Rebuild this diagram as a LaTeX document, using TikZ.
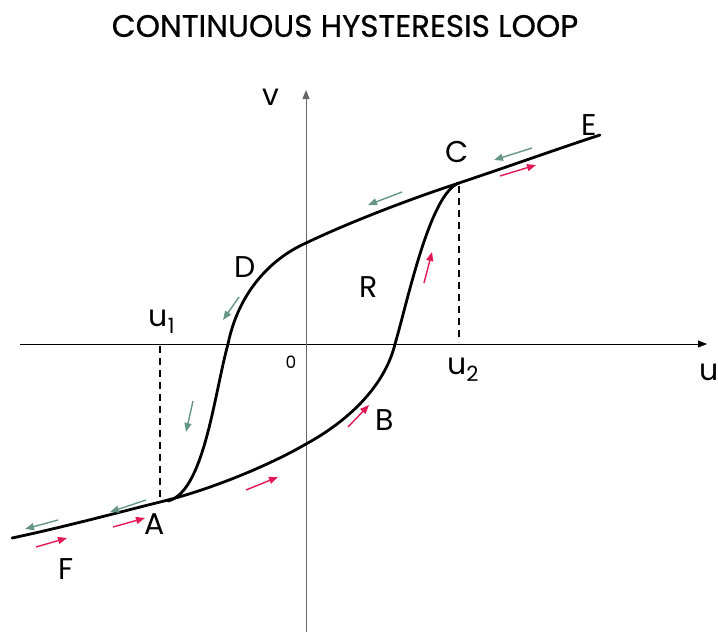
\documentclass[tikz,border=0pt]{standalone}
\usepackage{fontspec}
\setmainfont{Poppins}
\newfontfamily\titlefont[FakeBold=0.6]{Poppins}
\usetikzlibrary{arrows.meta}
\definecolor{teal1}{RGB}{100,150,130}
\definecolor{pink1}{RGB}{225,25,85}
\begin{document}
\begin{tikzpicture}[x=1pt,y=-1pt,
  lbl/.style={font=\fontsize{30}{32}\selectfont, inner sep=0pt},
  curve/.style={line width=2.8pt, line cap=round},
  tarr/.style={teal1, line width=1.4pt, -{Triangle[length=9pt,width=7pt]}},
  parr/.style={pink1, line width=1.4pt, -{Triangle[length=9pt,width=7pt]}},
  dsh/.style={line width=1.5pt, dash pattern=on 7pt off 5pt}]
\useasboundingbox (0,0) rectangle (718,633);
% title
\node[font=\titlefont\fontsize{31}{34}\selectfont, inner sep=0pt] (title) at (345,26) {CONTINUOUS HYSTERESIS LOOP};
% axes
\coordinate (xl) at (20,344);
\coordinate (xr) at (707,344);
\coordinate (yb) at (306,632);
\coordinate (yt) at (306,90);
\draw[line width=0.8pt, -{Triangle[length=9pt,width=7pt]}] (xl) -- (xr);
\draw[gray!80!black, line width=1pt, -{Triangle[length=9pt,width=7pt]}] (yb) -- (yt);
% dashed
\coordinate (u1a) at (160,346);
\coordinate (u1b) at (160,500);
\coordinate (u2a) at (459,186);
\coordinate (u2b) at (459,342);
\draw[dsh] (u1a) -- (u1b);
\draw[dsh] (u2a) -- (u2b);
% curve points
\coordinate (Fp) at (12,538);
\coordinate (Ap) at (160,502);
\coordinate (Y1) at (306,444);
\coordinate (X1) at (395,344);
\coordinate (Cp) at (459,183);
\coordinate (Y2) at (306,243);
\coordinate (X2) at (228,344);
\coordinate (J) at (168,501);
\coordinate (Ep) at (600,135);
\draw[curve] (Fp) .. controls (60,528) and (120,512) .. (Ap)
  .. controls (210,490) and (270,465) .. (Y1)
  .. controls (350,420) and (385,385) .. (X1)
  .. controls (408,300) and (430,193) .. (Cp);
\draw[curve] (Cp) .. controls (410,199) and (350,222) .. (Y2)
  .. controls (268,260) and (238,295) .. (X2)
  .. controls (214,395) and (204,492) .. (J);
\draw[curve] (Cp) .. controls (510,166) and (560,148) .. (Ep);
% labels
\node[lbl] (v) at (271,97) {v};
\node[lbl] (u) at (709,372) {u};
\node[font=\fontsize{17}{18}\selectfont, inner sep=0pt] (zero) at (291,362) {0};
\node[lbl] (u1) at (162,322) {u\textsubscript{1}};
\node[lbl] (u2) at (463,370) {u\textsubscript{2}};
\node[lbl] (D) at (245,267) {D};
\node[lbl] (R) at (369,287) {R};
\node[lbl] (B) at (385,420) {B};
\node[lbl] (C) at (457,152) {C};
\node[lbl] (E) at (589,125) {E};
\node[lbl] (A) at (155,524) {A};
\node[lbl] (F) at (66,569) {F};
% teal arrows
\coordinate (t1s) at (532,148); \coordinate (t1e) at (494,160);
\coordinate (t2s) at (402,192); \coordinate (t2e) at (368,205);
\coordinate (t3s) at (239,297); \coordinate (t3e) at (223,320);
\coordinate (t4s) at (193,401); \coordinate (t4e) at (186,432);
\coordinate (t5s) at (146,500); \coordinate (t5e) at (110,512);
\coordinate (t6s) at (58,520); \coordinate (t6e) at (25,529);
\foreach \i in {1,...,6} \draw[tarr] (t\i s) -- (t\i e);
% pink arrows
\coordinate (p1s) at (500,176); \coordinate (p1e) at (536,165);
\coordinate (p2s) at (424,283); \coordinate (p2e) at (432,252);
\coordinate (p3s) at (348,427); \coordinate (p3e) at (369,405);
\coordinate (p4s) at (246,490); \coordinate (p4e) at (278,477);
\coordinate (p5s) at (113,527); \coordinate (p5e) at (145,518);
\coordinate (p6s) at (36,547); \coordinate (p6e) at (67,538);
\foreach \i in {1,...,6} \draw[parr] (p\i s) -- (p\i e);
\end{tikzpicture}
\end{document}
